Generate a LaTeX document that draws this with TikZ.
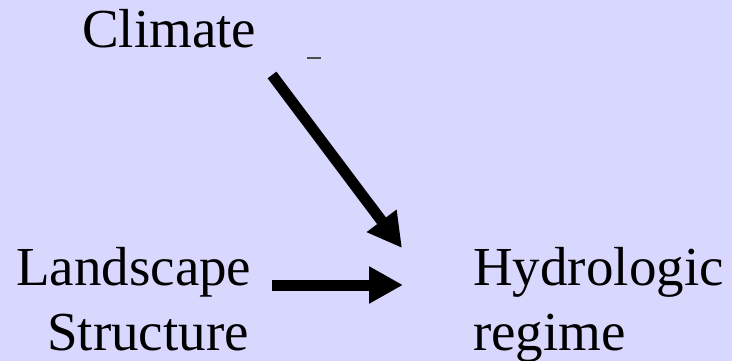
\documentclass[tikz,border=0pt]{standalone}
\usepackage{fontspec}
\setmainfont{Liberation Serif}
\usetikzlibrary{arrows.meta}
\definecolor{bgblue}{RGB}{216,216,255}
\tikzset{
  label text/.style={anchor=base west, inner sep=0pt, font=\fontsize{55}{65}\selectfont},
  bigarrow/.style={line width=11pt, -{Triangle[length=34pt,width=35pt]}},
}
\begin{document}
\begin{tikzpicture}[x=1pt,y=-1pt]
  \useasboundingbox (0,0) rectangle (732,361);
  \fill[bgblue] (0,0) rectangle (732,361);

  % labels
  \node[label text] (climate) at (82,48) {Climate};
  \node[label text] (landscape) at (16,285) {Landscape};
  \node[label text] (structure) at (47,350) {Structure};
  \node[label text] (hydro) at (473,285) {Hydrologic};
  \node[label text] (regime) at (473,350) {regime};

  % arrow end points
  \coordinate (climTail) at (272,75);
  \coordinate (climTip) at (402,248);
  \coordinate (landTail) at (272,285);
  \coordinate (landTip) at (403,285);

  \draw[bigarrow] (climTail) -- (climTip);
  \draw[bigarrow] (landTail) -- (landTip);

  % small stray stroke
  \coordinate (dashL) at (307,58);
  \coordinate (dashR) at (321,58);
  \draw[line width=1.2pt, black!70] (dashL) -- (dashR);
\end{tikzpicture}
\end{document}
